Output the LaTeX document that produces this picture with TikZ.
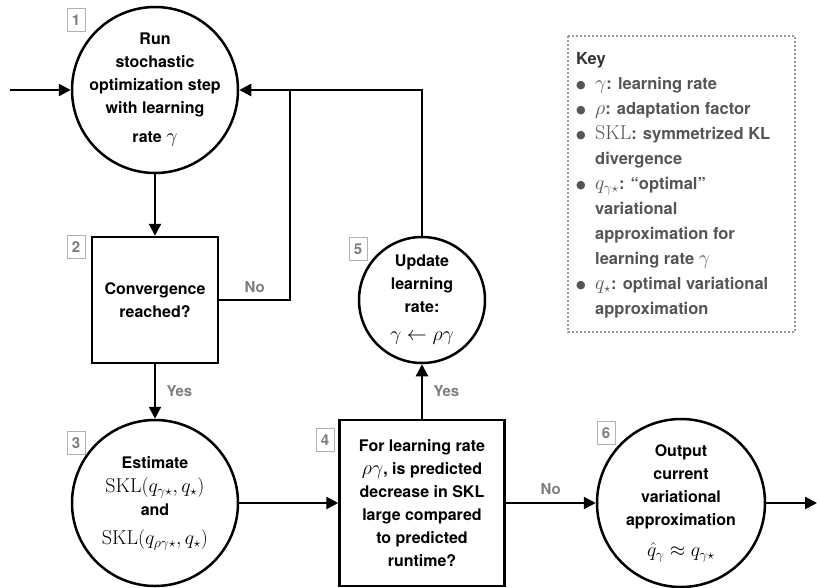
\RequirePackage{fix-cm}
\documentclass[tikz,border=0pt]{standalone}
\usepackage{amsmath}
\usepackage{amssymb}
\usepackage[no-math]{fontspec}
\setmainfont{TeX Gyre Heros}
\newfontfamily\dotfont{DejaVu Sans}
\usepackage{xcolor}
\usepackage{tikz}
\usetikzlibrary{arrows.meta}
\definecolor{keygray}{RGB}{85,85,85}
\definecolor{taggray}{RGB}{125,125,125}
\newcommand\keydot{\makebox[19pt][l]{\raisebox{0.5pt}{\dotfont\fontsize{11}{11}\selectfont ●}}}
\newcommand\keyskip{\makebox[19pt][l]{}}
\newcommand\mth[1]{{\fontsize{20}{23}\selectfont$#1$}}

\begin{document}
\begin{tikzpicture}[x=1pt,y=-1pt,
  stepcirc/.style={circle,draw,line width=2.5pt,inner sep=-14pt,align=center,font=\fontsize{16}{23}\selectfont\bfseries},
  testbox/.style={rectangle,draw,line width=2.5pt,inner sep=0pt,align=center,font=\fontsize{16}{23}\selectfont\bfseries},
  numtag/.style={draw=taggray!60,text=taggray,line width=0.8pt,minimum width=18pt,minimum height=23pt,inner sep=0pt,font=\fontsize{15}{15}\selectfont\bfseries},
  link/.style={line width=2.5pt},
  flow/.style={line width=2.5pt,-{Triangle[length=12pt,width=12pt]}},
  branch/.style={text=taggray,font=\fontsize{15}{15}\selectfont\bfseries}]
\useasboundingbox (0,0) rectangle (817,587);

\node [stepcirc,minimum size=166pt] (c1) at (155,90) {Run\\stochastic\\optimization step\\with learning\\[6pt]rate \mth{\gamma}};
\node [testbox,minimum size=126pt] (b2) at (155,300) {Convergence\\reached?};
\node [stepcirc,minimum size=166pt] (c3) at (155,503) {Estimate\\[1pt]\mth{\mathrm{SKL}(q_{\gamma\star},q_\star)}\\and\\[6pt]\mth{\mathrm{SKL}(q_{\rho\gamma\star},q_\star)}};
\node [testbox,minimum width=165pt,minimum height=166pt] (b4) at (422,503) {For learning rate\\\mth{\rho\gamma}, is predicted\\decrease in SKL\\large compared\\to predicted\\runtime?};
\node [stepcirc,minimum size=126pt] (c5) at (422,300) {Update\\learning\\rate:\\[5pt]\mth{\gamma\leftarrow\rho\gamma}};
\node [stepcirc,minimum size=168pt] (c6) at (681,503) {Output\\current\\variational\\approximation\\[8pt]\mth{\hat{q}_\gamma\approx q_{\gamma\star}}};

\node [numtag] (n1) at (76,20) {1};
\node [numtag] (n2) at (76,247) {2};
\node [numtag] (n3) at (76,443) {3};
\node [numtag] (n4) at (325,440) {4};
\node [numtag] (n5) at (358,249) {5};
\node [numtag] (n6) at (606,433) {6};

\coordinate (in1) at (10,90);
\coordinate (jn) at (290,90);
\coordinate (out6) at (817,503);

\draw [flow] (in1) -- (c1.west);
\draw [flow] (c1.south) -- (b2.north);
\draw [link] (b2.east) -- node[branch,above=3pt] {No} (b2.east -| jn) -- (jn);
\draw [flow] (c5.north) |- (c1.east);
\draw [flow] (b2.south) -- node[branch,right=7pt] {Yes} (c3.north);
\draw [flow] (c3.east) -- (b4.west);
\draw [flow] (b4.north) -- node[branch,right=7pt] {Yes} (c5.south);
\draw [flow] (b4.east) -- node[branch,above=4pt] {No} (c6.west);
\draw [flow] (c6.east) -- (out6);

% key
\draw [taggray!80,line width=2pt,dotted] (568,36) rectangle (795,332);
\node [anchor=north west,inner sep=0pt,align=left,text=keygray,font=\fontsize{16.5}{25}\selectfont\bfseries] (key) at (576,52) {\textcolor{black!80}{Key}\\
\keydot\mth{\gamma}: learning rate\\
\keydot\mth{\rho}: adaptation factor\\
\keydot\mth{\mathrm{SKL}}: symmetrized KL\\
\keyskip divergence\\
\keydot\mth{q_{\gamma\star}}: “optimal”\\
\keyskip variational\\
\keyskip approximation for\\
\keyskip learning rate \mth{\gamma}\\
\keydot\mth{q_\star}: optimal variational\\
\keyskip approximation};
\end{tikzpicture}
\end{document}
